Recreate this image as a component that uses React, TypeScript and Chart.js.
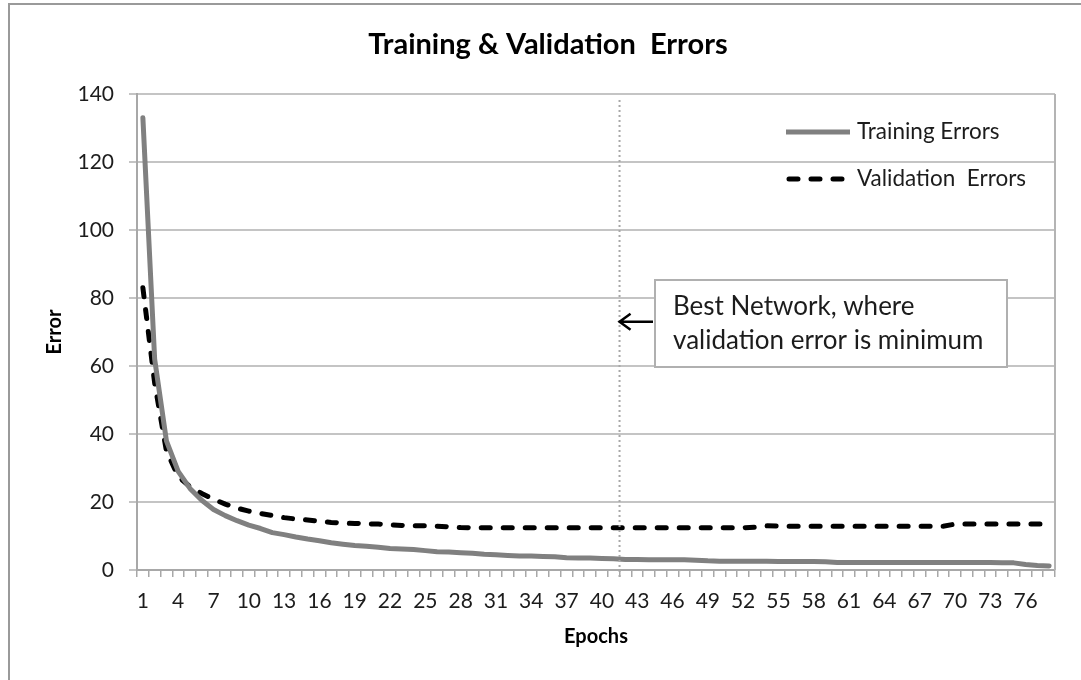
import React, { useEffect, useRef } from 'react';
import { Chart, registerables } from 'chart.js';

Chart.register(...registerables);

// ---- Data ----
const epochs: string[] = [
  '1', '2', '3', '4', '5', '6', '7', '8', '9', '10',
  '11', '12', '13', '14', '15', '16', '17', '18', '19', '20',
  '21', '22', '23', '24', '25', '26', '27', '28', '29', '30',
  '31', '32', '33', '34', '35', '36', '37', '38', '39', '40',
  '41', '42', '43', '44', '45', '46', '47', '48', '49', '50',
  '51', '52', '53', '54', '55', '56', '57', '58', '59', '60',
  '61', '62', '63', '64', '65', '66', '67', '68', '69', '70',
  '71', '72', '73', '74', '75', '76', '77', '78',
];

const trainingErrors: number[] = [
  133, 62, 38, 29, 24, 20.5, 17.8, 16, 14.5, 13.2,
  12.2, 11.0, 10.4, 9.7, 9.1, 8.6, 8.0, 7.6, 7.2, 7.0,
  6.7, 6.3, 6.2, 6.0, 5.7, 5.4, 5.3, 5.1, 4.9, 4.6,
  4.5, 4.3, 4.1, 4.1, 4.0, 3.9, 3.6, 3.5, 3.5, 3.4,
  3.3, 3.1, 3.1, 3.0, 3.0, 3.0, 3.0, 2.9, 2.7, 2.6,
  2.6, 2.6, 2.6, 2.6, 2.5, 2.5, 2.5, 2.5, 2.4, 2.2,
  2.2, 2.2, 2.2, 2.2, 2.2, 2.2, 2.2, 2.2, 2.2, 2.2,
  2.2, 2.2, 2.2, 2.1, 2.1, 1.6, 1.3, 1.2,
];

const validationErrors: number[] = [
  83, 55, 35, 27.5, 24.5, 22.5, 20.8, 19.4, 18.2, 17.3,
  16.6, 16.0, 15.4, 15.0, 14.7, 14.3, 14.0, 13.8, 13.7, 13.6,
  13.5, 13.3, 13.1, 13.0, 13.0, 12.9, 12.7, 12.5, 12.4, 12.4,
  12.4, 12.4, 12.4, 12.4, 12.4, 12.4, 12.4, 12.4, 12.4, 12.4,
  12.4, 12.4, 12.4, 12.4, 12.4, 12.4, 12.4, 12.4, 12.4, 12.4,
  12.4, 12.4, 12.6, 13.0, 12.9, 12.9, 12.9, 12.9, 12.9, 12.9,
  12.9, 12.9, 12.9, 12.9, 12.9, 12.9, 12.9, 12.9, 12.9, 13.5,
  13.5, 13.5, 13.5, 13.5, 13.5, 13.5, 13.5, 13.5,
];

const yTicks: number[] = [0, 20, 40, 60, 80, 100, 120, 140];

const chartTitle = 'Training & Validation  Errors';
const xTitle = 'Epochs';
const yTitle = 'Error';
const seriesNames: string[] = ['Training Errors', 'Validation  Errors'];
const noteLines: string[] = ['Best Network, where', 'validation error is minimum'];
const bestEpochBoundary: [string, string] = ['41', '42'];
const arrowValue = 73;

const FONT = 'Lato, "Open Sans", sans-serif';
const TEXT = '#1c1c1c';

const decorations = {
  id: 'decorations',
  beforeDraw(chart: any) {
    const { ctx } = chart;
    ctx.save();
    ctx.fillStyle = '#ffffff';
    ctx.fillRect(0, 0, chart.width, chart.height);
    ctx.strokeStyle = '#9a9a9a';
    ctx.lineWidth = 2;
    ctx.strokeRect(9, 4, chart.width + 20, chart.height + 20);
    ctx.restore();
  },
  afterDraw(chart: any) {
    const { ctx, chartArea } = chart;
    const xs = chart.scales.x;
    const ys = chart.scales.y;
    ctx.save();

    // plot area right border
    ctx.strokeStyle = '#b4b4b4';
    ctx.lineWidth = 2;
    ctx.beginPath();
    ctx.moveTo(chartArea.right, chartArea.top);
    ctx.lineTo(chartArea.right, chartArea.bottom);
    ctx.stroke();

    // Title
    ctx.fillStyle = '#000';
    ctx.font = `bold 29px ${FONT}`;
    ctx.textAlign = 'center';
    ctx.textBaseline = 'middle';
    ctx.fillText(chartTitle, 548, 45);

    // vertical dotted line (best network)
    const i0 = epochs.indexOf(bestEpochBoundary[0]);
    const i1 = epochs.indexOf(bestEpochBoundary[1]);
    const vx = (xs.getPixelForValue(i0) + xs.getPixelForValue(i1)) / 2;
    ctx.strokeStyle = '#a8a8a8';
    ctx.lineWidth = 2;
    ctx.setLineDash([2, 3]);
    ctx.beginPath();
    ctx.moveTo(vx, chartArea.top + 6);
    ctx.lineTo(vx, chartArea.bottom + 8);
    ctx.stroke();
    ctx.setLineDash([]);

    // Legend
    const legX0 = 786, legX1 = 850, legText = 857;
    const legY = [132, 179];
    ctx.lineWidth = 5;
    ctx.strokeStyle = '#808080';
    ctx.lineCap = 'butt';
    ctx.beginPath();
    ctx.moveTo(legX0, legY[0]);
    ctx.lineTo(legX1, legY[0]);
    ctx.stroke();
    ctx.strokeStyle = '#000';
    ctx.lineCap = 'round';
    ctx.setLineDash([9, 13]);
    ctx.beginPath();
    ctx.moveTo(legX0 + 3, legY[1]);
    ctx.lineTo(legX1, legY[1]);
    ctx.stroke();
    ctx.setLineDash([]);
    ctx.lineCap = 'butt';
    ctx.fillStyle = TEXT;
    ctx.font = `22.5px ${FONT}`;
    ctx.textAlign = 'left';
    ctx.textBaseline = 'middle';
    ctx.fillText(seriesNames[0], legText, legY[0]);
    ctx.fillText(seriesNames[1], legText, legY[1]);

    // Annotation box
    const bx = 655, by = 280, bw = 352, bh = 87;
    ctx.fillStyle = '#ffffff';
    ctx.fillRect(bx, by, bw, bh);
    ctx.strokeStyle = '#b0b0b0';
    ctx.lineWidth = 2;
    ctx.strokeRect(bx, by, bw, bh);
    ctx.fillStyle = TEXT;
    ctx.font = `26px ${FONT}`;
    ctx.textBaseline = 'alphabetic';
    ctx.fillText(noteLines[0], 673, 315);
    ctx.fillText(noteLines[1], 673, 349);

    // Arrow
    const ay = ys.getPixelForValue(arrowValue);
    ctx.strokeStyle = '#000';
    ctx.lineWidth = 2.5;
    ctx.beginPath();
    ctx.moveTo(bx - 2, ay);
    ctx.lineTo(vx, ay);
    ctx.moveTo(vx + 11, ay - 8);
    ctx.lineTo(vx, ay);
    ctx.lineTo(vx + 11, ay + 8);
    ctx.stroke();

    ctx.restore();
  },
};

export default function App() {
  const canvasRef = useRef<HTMLCanvasElement | null>(null);

  useEffect(() => {
    const canvas = canvasRef.current;
    if (!canvas) return;
    const chart = new Chart(canvas, {
      type: 'line',
      data: {
        labels: epochs,
        datasets: [
          {
            label: seriesNames[0],
            data: trainingErrors,
            borderColor: '#808080',
            borderWidth: 5,
            pointRadius: 0,
            tension: 0,
            borderCapStyle: 'round',
            borderJoinStyle: 'round',
          },
          {
            label: seriesNames[1],
            data: validationErrors,
            borderColor: '#000000',
            borderWidth: 5,
            borderDash: [9, 13],
            borderCapStyle: 'round',
            pointRadius: 0,
            tension: 0,
          },
        ],
      },
      options: {
        animation: false,
        responsive: false,
        devicePixelRatio: 1,
        layout: { padding: { left: 0, right: 26, top: 94, bottom: 0 } },
        plugins: {
          legend: { display: false },
          title: { display: false },
          tooltip: { enabled: false },
        },
        scales: {
          x: {
            type: 'category',
            offset: true,
            grid: {
              offset: true,
              drawOnChartArea: false,
              drawTicks: true,
              tickLength: 7,
              color: '#a8a8a8',
              lineWidth: 1.5,
            },
            border: { display: true, color: '#a8a8a8', width: 2 },
            ticks: {
              autoSkip: false,
              maxRotation: 0,
              minRotation: 0,
              padding: 12,
              color: TEXT,
              font: { family: FONT, size: 21 },
              callback: (_v: any, i: number) => (i % 3 === 0 ? epochs[i] : ''),
            },
            title: {
              display: true,
              text: xTitle,
              color: '#000',
              font: { family: FONT, size: 20, weight: 'bold' },
              padding: { top: 0, bottom: 31 },
            },
            afterFit: (s: any) => {
              s.height = 110;
            },
          },
          y: {
            min: 0,
            max: 140,
            afterBuildTicks: (s: any) => {
              s.ticks = yTicks.map((v) => ({ value: v }));
            },
            grid: {
              color: '#c4c4c4',
              lineWidth: 2,
              tickLength: 8,
            },
            border: { display: true, color: '#a8a8a8', width: 2 },
            ticks: {
              padding: 15,
              color: TEXT,
              font: { family: FONT, size: 21 },
            },
            title: {
              display: true,
              text: yTitle,
              color: '#000',
              font: { family: FONT, size: 20, weight: 'bold' },
              padding: { top: 43, bottom: 0 },
            },
            afterFit: (s: any) => {
              s.width = 137;
            },
          },
        },
      },
      plugins: [decorations],
    } as any);
    return () => chart.destroy();
  }, []);

  return (
    <div style={{ position: 'fixed', left: 0, top: 0, width: 1081, height: 680, background: '#fff' }}>
      <canvas ref={canvasRef} width={1081} height={680} style={{ display: 'block' }} />
    </div>
  );
}
